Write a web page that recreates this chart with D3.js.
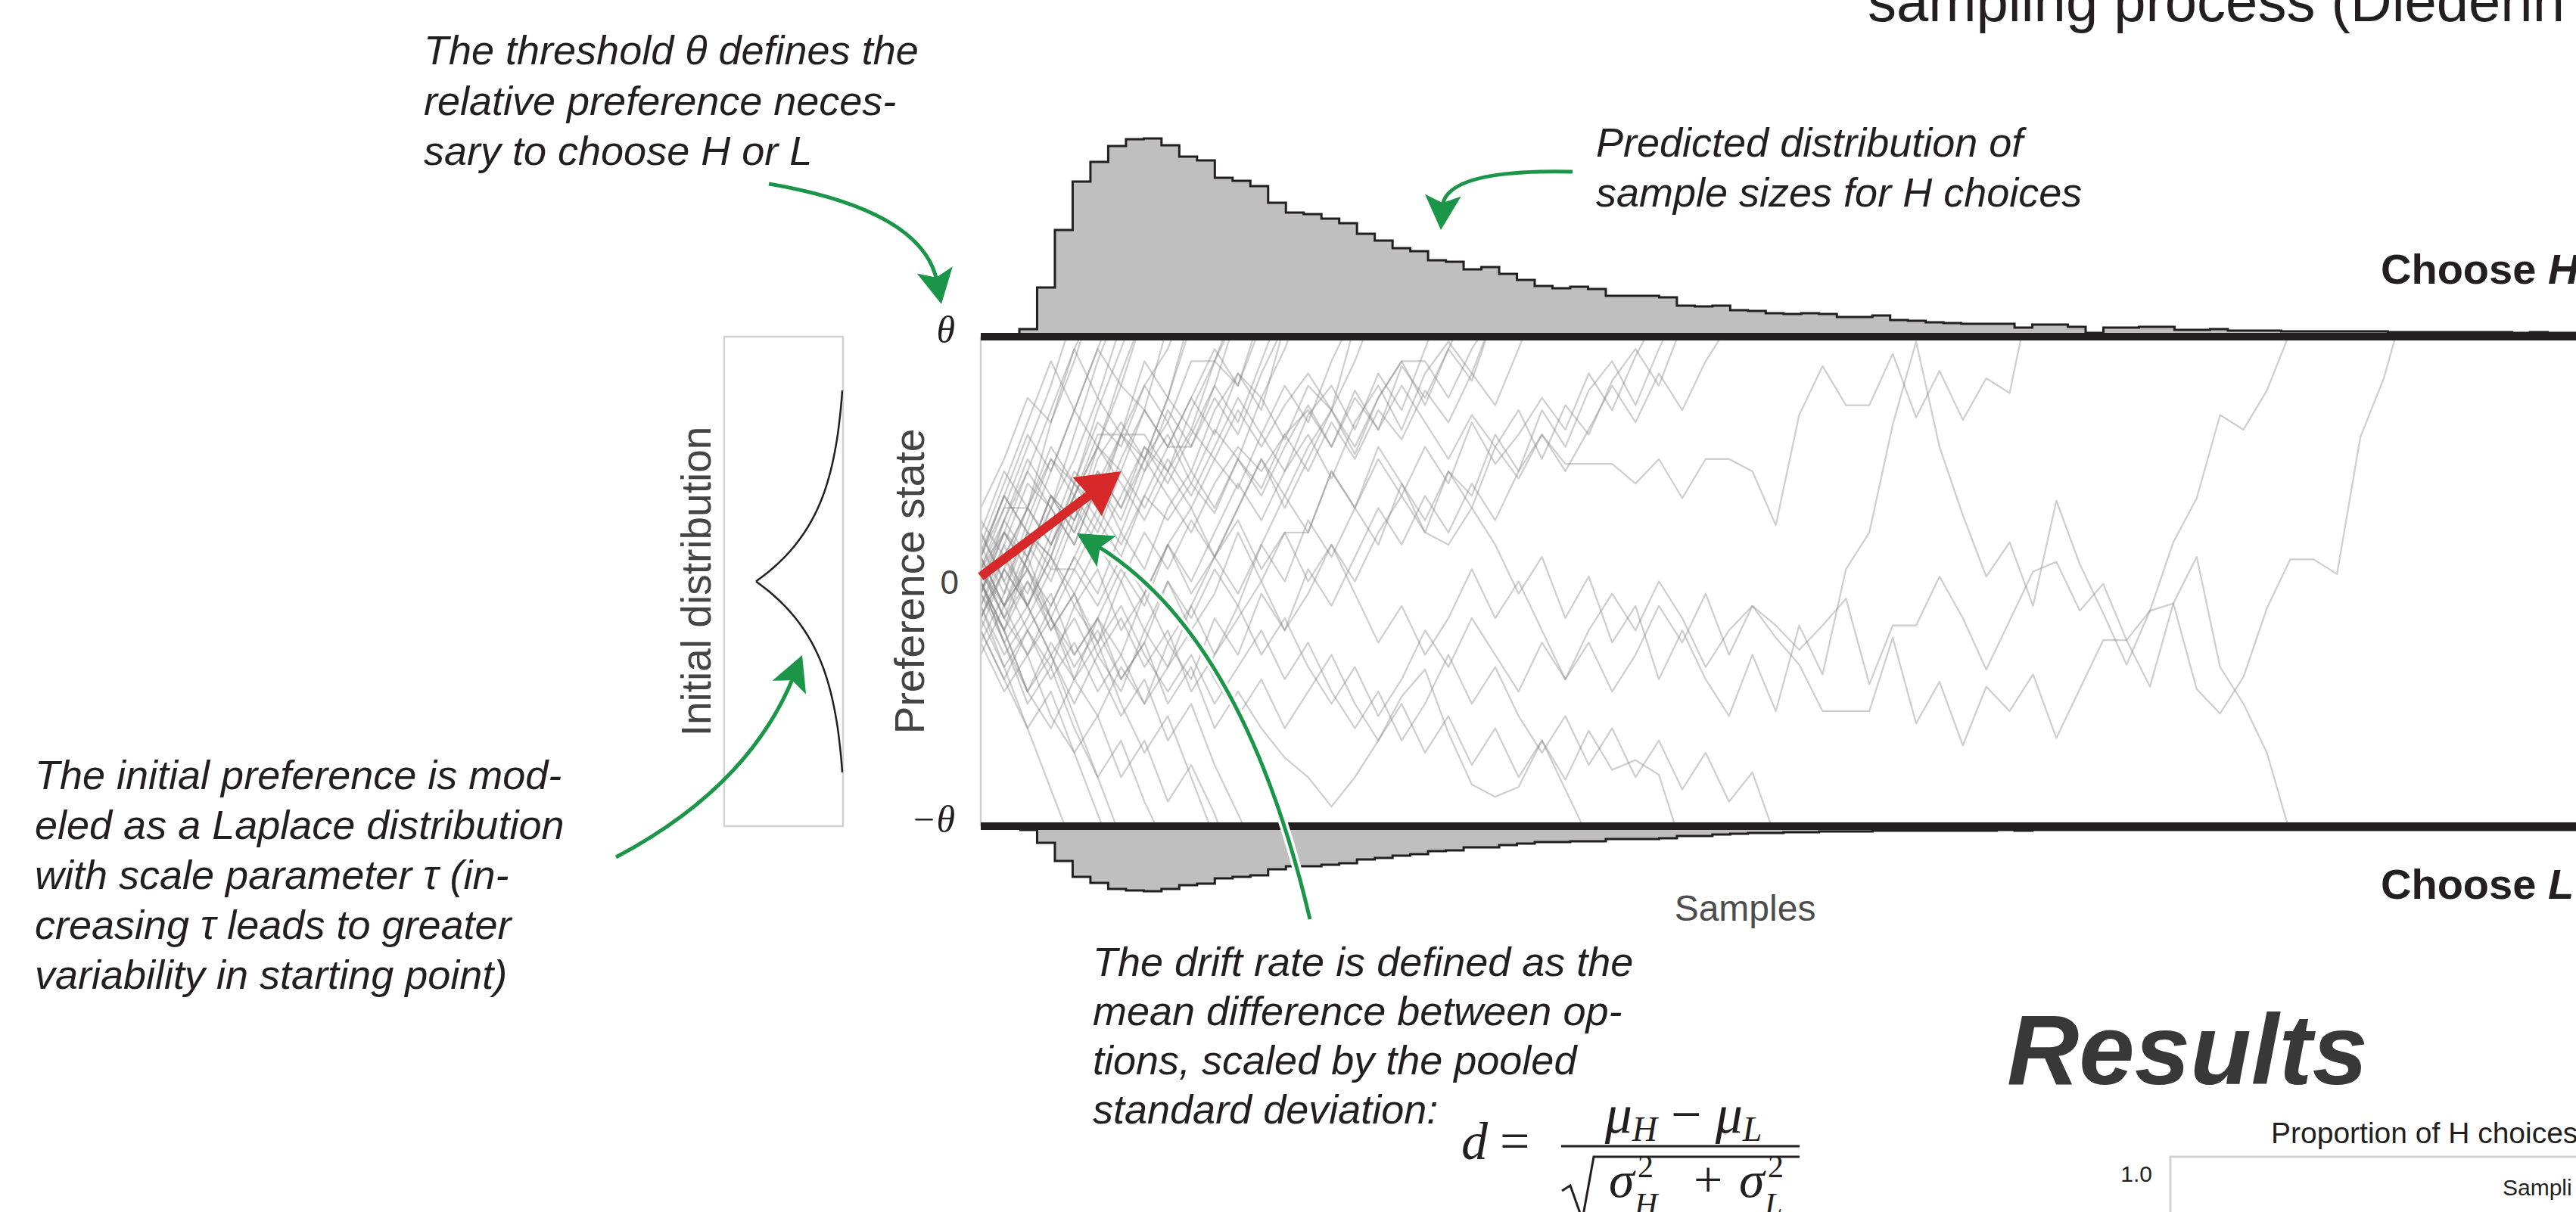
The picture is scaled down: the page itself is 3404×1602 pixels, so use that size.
<!DOCTYPE html>
<html>
<head>
<meta charset="utf-8">
<script src="https://cdn.jsdelivr.net/npm/d3@7"></script>
<style>
	html, body {margin: 0; padding: 0; background: #fff; overflow: hidden;}
	svg {display: block;}
	text {font-family: "Liberation Sans", Arial, Helvetica, sans-serif;}
	.note {font-style: italic; font-size: 54px; fill: #231f20;}
	.axis-label {font-size: 55px; fill: #444;}
	.math {font-family: "Liberation Serif", "DejaVu Serif", serif; fill: #231f20;}
</style>
</head>
<body>
<svg id="fig" width="3404" height="1602"></svg>
<script>
(function() {
	'use strict';

	// ---- data ----
	var THETA = 1;

	// sample-size histograms (counts, one per bin, bins in sample units)
	var histBinStart = 1.65, histBinWidth = 0.76;
	var topHistCounts = [
		5, 60, 136, 200, 226, 247, 256, 257, 248, 233,
		228, 205, 201, 194, 172, 159, 157, 151, 145, 131,
		122, 112, 108, 96, 94, 84, 87, 78, 70, 62,
		59, 61, 58, 49, 49, 49, 47, 36, 35, 36,
		30, 29, 26, 25, 26, 25, 21, 21, 23, 17,
		16, 14, 13, 12, 12, 12, 7, 11, 11, 8,
		0, 7, 7, 8, 8, 4, 4, 5, 3, 3,
		3, 2, 2, 2, 2, 2, 2, 1, 1, 1,
		1, 1, 1, 1, 0, 1, 0, 0];
	var bottomHistCounts = [
		0, 17, 41, 62, 70, 78, 80, 81, 78, 73,
		71, 64, 62, 60, 52, 48, 48, 46, 44, 39,
		37, 34, 32, 28, 27, 23, 23, 20, 18, 16,
		16, 15, 15, 12, 12, 12, 11, 8, 8, 6,
		5, 4, 4, 3, 3, 2, 2, 2, 1, 1,
		1, 1, 1, 1, 1, 0, 1, 0, 0, 0,
		0, 0, 0, 0, 0, 0, 0, 0, 0, 0,
		0, 0, 0, 0, 0, 0, 0, 0, 0, 0,
		0, 0, 0, 0, 0, 0, 0, 0];

	// initial (Laplace) distribution, relative density at preference values
	var initGrid = [-0.78, -0.75, -0.7, -0.65, -0.6, -0.55, -0.5, -0.45, -0.4, -0.35, -0.3, -0.25, -0.2, -0.15, -0.1, -0.05,
		0, 0.05, 0.1, 0.15, 0.2, 0.25, 0.3, 0.35, 0.4, 0.45, 0.5, 0.55, 0.6, 0.65, 0.7, 0.75, 0.78];
	var initDensity = [0.052, 0.058, 0.070, 0.085, 0.102, 0.124, 0.150, 0.181, 0.219, 0.264, 0.320, 0.387, 0.468, 0.566, 0.684, 0.827,
		1, 0.827, 0.684, 0.566, 0.468, 0.387, 0.320, 0.264, 0.219, 0.181, 0.150, 0.124, 0.102, 0.085, 0.070, 0.058, 0.052];

	// drift arrow: [sample, preference]
	var driftFrom = [0, 0.02];
	var driftTo = [6, 0.45];

	var yTickValues = [THETA, 0, -THETA];
	var yTickLabels = ['θ', '0', '−θ'];

	// simulated preference paths (value per sample, in units of θ)
	var paths = [
		[0.05, 0.3, 0.55, 0.8, 1.1],
		[-0.1, 0.15, 0.4, 0.3, 0.6, 0.9, 1.15],
		[0.2, 0.45, 0.3, 0.65, 0.9, 1.2],
		[0.0, -0.2, 0.1, 0.35, 0.25, 0.55, 0.8, 0.7, 1.05],
		[0.1, 0.35, 0.2, 0.45, 0.7, 0.55, 0.85, 1.1],
		[-0.25, -0.05, 0.2, 0.1, 0.4, 0.3, 0.6, 0.5, 0.75, 1.05],
		[0.15, -0.05, 0.25, 0.5, 0.4, 0.65, 0.55, 0.8, 0.95, 1.2],
		[-0.05, 0.25, 0.45, 0.3, 0.5, 0.75, 0.6, 0.9, 0.75, 1.1],
		[0.3, 0.5, 0.75, 0.65, 0.95, 1.15],
		[-0.15, 0.1, -0.05, 0.2, 0.45, 0.35, 0.6, 0.45, 0.7, 0.55, 0.8, 1.1],
		[0.0, 0.25, 0.1, 0.35, 0.2, 0.5, 0.65, 0.5, 0.75, 0.62, 0.9, 0.8, 1.1],
		[0.08, -0.15, 0.1, 0.3, 0.15, 0.4, 0.25, 0.5, 0.65, 0.45, 0.7, 0.85, 0.7, 1.05],
		[-0.3, -0.1, 0.15, 0.0, 0.25, 0.45, 0.3, 0.55, 0.4, 0.6, 0.8, 0.65, 0.9, 1.15],
		[0.12, 0.35, 0.2, 0.1, 0.35, 0.55, 0.45, 0.7, 0.55, 0.75, 0.6, 0.85, 0.75, 0.95, 1.2],
		[-0.05, 0.2, 0.05, 0.3, 0.15, 0.4, 0.2, 0.45, 0.6, 0.4, 0.62, 0.5, 0.75, 0.58, 0.8, 0.7, 1.05],
		[0.0, 0.1, -0.1, 0.15, 0.35, 0.2, 0.45, 0.3, 0.5, 0.35, 0.55, 0.75, 0.6, 0.8, 0.65, 0.9, 1.1],
		[0.2, 0.0, 0.2, 0.05, 0.3, 0.15, 0.35, 0.55, 0.45, 0.62, 0.5, 0.7, 0.55, 0.72, 0.85, 0.7, 0.9, 1.15],
		[-0.1, 0.1, 0.3, 0.15, 0.35, 0.55, 0.4, 0.25, 0.45, 0.3, 0.5, 0.38, 0.6, 0.45, 0.68, 0.8, 0.62, 0.85, 0.7, 0.95, 1.2],
		[0.05, -0.15, -0.3, -0.1, 0.1, -0.05, 0.2, 0.05, 0.3, 0.45, 0.3, 0.5, 0.35, 0.55, 0.72, 0.55, 0.78, 0.62, 0.88, 0.75, 0.95, 1.15],
		[-0.2, -0.4, -0.2, -0.35, -0.1, -0.25, 0.0, 0.2, 0.05, 0.25, 0.1, 0.3, 0.5, 0.35, 0.55, 0.7, 0.52, 0.75, 0.9, 0.72, 0.95, 0.82, 1.1],
		[0.0, 0.2, 0.05, -0.1, 0.1, 0.3, 0.15, 0.35, 0.25, 0.4, 0.28, 0.5, 0.38, 0.6, 0.45, 0.65, 0.5, 0.7, 0.58, 0.78, 0.65, 0.85, 0.72, 0.95, 1.2],
		[0.1, 0.3, 0.3, 0.5, 0.35, 0.6, 0.6, 0.8, 0.65, 0.9, 0.9, 1.1],
		[-0.1, -0.3, -0.15, 0.05, 0.05, 0.25, 0.1, 0.35, 0.55, 0.55, 0.75, 0.6, 0.85, 1.05],
		[0.25, 0.1, 0.3, 0.15, 0.4, 0.25, 0.5, 0.7, 0.55, 0.75, 0.95, 0.8, 1.05],
		[0.0, -0.2, -0.45, -0.25, -0.4, -0.15, -0.3, -0.05, 0.15, 0.0, 0.2, 0.4, 0.25, 0.45, 0.6, 0.42, 0.65, 0.8, 0.62, 0.85, 0.98, 0.85, 1.1],
		[0.05, 0.25, 0.5, 0.35, 0.2, 0.4, 0.6, 0.6, 0.45, 0.7, 0.9, 1.15],
		[-0.05, 0.2, 0.45, 0.7, 0.95, 0.75, 1.05],
		[0.15, 0.4, 0.65, 0.9, 0.7, 0.95, 1.2],
		[-0.2, 0.05, 0.3, 0.55, 0.4, 0.7, 0.95, 1.2],
		[0.1, 0.35, 0.6, 0.45, 0.7, 0.95, 0.8, 1.1],
		[-0.15, 0.05, -0.1, 0.1, -0.05, 0.15, 0.0, -0.2, 0.0, -0.15, 0.05, -0.1, 0.15, 0.35, 0.2, 0.45, 0.3, 0.5, 0.35, 0.55, 0.4, 0.65, 0.48, 0.6, 0.75, 0.62, 0.85, 0.7, 0.92, 1.1],
		[0.0, -0.25, -0.1, -0.3, -0.5, -0.3, -0.45, -0.2, -0.35, -0.1, 0.1, -0.05, 0.15, 0.0, 0.25, 0.1, 0.3, 0.15, 0.4, 0.25, 0.45, 0.3, 0.55, 0.7, 0.5, 0.72, 0.6, 0.82, 0.95, 0.8, 1.05],
		[0.2, 0.0, -0.2, -0.05, -0.3, -0.15, 0.05, -0.1, 0.15, 0.3, 0.1, 0.3, 0.5, 0.3, 0.5, 0.7, 0.55, 0.75, 0.9, 0.9, 0.75, 0.95, 1.1],
		[-0.05, -0.25, -0.45, -0.6, -0.4, -0.55, -0.35, -0.5, -0.25, -0.4, -0.15, -0.3, -0.05, -0.2, 0.05, -0.1, 0.1, 0.3, 0.15, 0.35, 0.2, 0.4, 0.25, 0.45, 0.6, 0.45, 0.62, 0.8, 0.65, 0.85, 0.7, 0.9, 1.05],
		[0.1, -0.1, 0.05, -0.15, -0.35, -0.2, -0.4, -0.25, 0.0, -0.2, -0.05, 0.2, 0.0, 0.2, 0.2, 0.45, 0.3, 0.55, 0.4, 0.2, 0.45, 0.35, 0.6, 0.45, 0.7, 0.55, 0.78, 0.9, 0.72, 0.95, 1.15],
		[-0.1, -0.35, -0.6, -0.85, -1.1],
		[0.0, -0.2, -0.45, -0.3, -0.55, -0.8, -1.05],
		[-0.25, -0.45, -0.3, -0.55, -0.7, -0.95, -1.2],
		[0.1, -0.1, -0.3, -0.15, -0.4, -0.25, -0.5, -0.7, -0.55, -0.8, -1.05],
		[-0.05, 0.15, -0.1, -0.3, -0.15, -0.35, -0.55, -0.4, -0.65, -0.5, -0.75, -0.95, -1.15],
		[0.05, -0.1, 0.1, -0.15, -0.3, -0.15, -0.4, -0.25, -0.5, -0.35, -0.6, -0.45, -0.6, -0.72, -0.8, -0.92, -0.8, -0.65, -0.47, -0.36, -0.62, -0.83, -0.88, -0.84, -0.65, -0.81, -0.61, -0.77, -0.73, -0.79, -1.09],
		[-0.15, -0.35, -0.2, -0.4, -0.25, -0.45, -0.3, -0.5, -0.35, -0.2, -0.4, -0.55, -0.4, -0.6, -0.45, -0.3, -0.5, -0.65, -0.5, -0.7, -0.55, -0.75, -0.6, -0.8, -0.65, -0.85, -1.05],
		[0.05, -0.15, 0.0, -0.2, -0.05, -0.25, -0.1, -0.3, -0.45, -0.3, -0.5, -0.35, -0.2, -0.4, -0.25, -0.45, -0.6, -0.45, -0.65, -0.5, -0.3, -0.5, -0.35, -0.55, -0.7, -0.55, -0.75, -0.6, -0.8, -0.65, -0.85, -0.7, -0.9, -0.78, -1.05],
		[0.0, -0.25, -0.5, -0.35, -0.6, -0.8, -0.65, -0.9, -1.1],
		[-0.2, -0.4, -0.6, -0.45, -0.7, -0.55, -0.8, -0.65, -0.9, -0.75, -0.95, -1.2],
		[0.05, 0.2, 0.1, 0.35, 0.25, 0.45, 0.3, 0.5, 0.35, 0.2, 0.4, 0.55, 0.45, 0.6, 0.7, 0.55, 0.75, 0.62, 0.8, 0.65, 0.5, 0.68, 0.55, 0.42, 0.6, 0.48, 0.48, 0.48, 0.4, 0.5, 0.34, 0.5, 0.5, 0.45,
			0.23, 0.68, 0.88, 0.72, 0.72, 0.93, 0.67, 0.86, 0.66, 0.83, 0.77, 1.23],
		[-0.05, -0.2, 0.0, -0.15, 0.05, -0.1, 0.1, -0.05, -0.25, -0.1, -0.3, -0.15, 0.0, -0.2, -0.05, 0.15, 0.0, 0.2, 0.35, 0.2, 0.15, 0.3, 0.15, -0.05, 0.1, -0.15, 0.02, -0.25, -0.1, -0.4, -0.2, -0.4, -0.55, -0.3,
			-0.53, -0.18, -0.38, 0.05, 0.2, 0.64, 0.98, 0.55, 0.27, 0.02, 0.16, -0.1, 0.33, 0.07, -0.13, -0.34, -0.12, 0.16, 0.34, 0.68, 0.62, 0.78, 1.02],
		[0.1, -0.1, 0.05, -0.2, -0.05, -0.3, -0.15, -0.35, -0.2, -0.45, -0.3, -0.1, -0.3, -0.15, -0.35, -0.5, -0.35, -0.55, -0.4, -0.2, -0.35, -0.15, -0.3, -0.45, -0.25, -0.4, -0.2, -0.05, -0.2, 0.0, -0.15, -0.35, -0.2, -0.1,
			-0.23, -0.34, -0.53, -0.53, -0.53, -0.23, -0.58, -0.41, -0.67, -0.43, -0.53, -0.38, -0.64, -0.44, -0.24, -0.24, -0.12, -0.09, -0.44, -0.54, -0.39, -0.11, 0.09, 0.09, 0.03, 0.59, 0.83, 1.17],
		[-0.15, 0.05, -0.1, 0.1, -0.1, 0.05, -0.2, -0.05, 0.15, -0.05, 0.1, 0.25, 0.05, 0.2, 0.0, 0.15, -0.05, -0.25, -0.1, -0.3, -0.15, 0.05, -0.15, 0.0, -0.2, -0.4, -0.25, -0.45, -0.3, -0.1, -0.25, -0.05, -0.3, -0.1,
			-0.18, -0.28, -0.18, -0.07, -0.42, -0.18, -0.18, 0.02, -0.15, -0.36, -0.16, 0.04, 0.08, -0.12, -0.01, -0.24, -0.43, -0.09, 0.1, -0.35, -0.5, -0.7, -1.03]
	];

	var noteThreshold = ['The threshold θ defines the', 'relative preference neces-', 'sary to choose H or L'];
	var notePredicted = ['Predicted distribution of', 'sample sizes for H choices'];
	var noteInitial = ['The initial preference is mod-', 'eled as a Laplace distribution',
		'with scale parameter τ (in-', 'creasing τ leads to greater', 'variability in starting point)'];
	var noteDrift = ['The drift rate is defined as the', 'mean difference between op-',
		'tions, scaled by the pooled', 'standard deviation:'];

	// ---- layout ----
	var W = 3404, H = 1602;
	var barWidth = 10;
	var green = '#1b9648', red = '#d7292a', ink = '#231f20';

	var svg = d3.select('#fig');

	var x = d3.scaleLinear().domain([0, 60]).range([1296, 1296 + 60 * 30.9]);
	var y = d3.scaleLinear().domain([-THETA, THETA]).range([1092, 445]);
	var hScale = d3.scaleLinear().domain([0, 257]).range([0, 257]);

	var defs = svg.append('defs');
	defs.append('clipPath').attr('id', 'plot-clip')
		.append('rect')
		.attr('x', x(0)).attr('y', y(THETA))
		.attr('width', W - x(0)).attr('height', y(-THETA) - y(THETA));

	// paths
	var line = d3.line()
		.x(function(d, i) {return x(i);})
		.y(function(d) {return y(d);});
	svg.append('g').attr('clip-path', 'url(#plot-clip)')
		.selectAll('path').data(paths).join('path')
		.attr('d', line)
		.attr('fill', 'none')
		.attr('stroke', '#808080')
		.attr('stroke-opacity', 0.38)
		.attr('stroke-width', 2.3)
		.attr('stroke-linejoin', 'round');

	// plot frame (left side)
	svg.append('line')
		.attr('x1', x(0)).attr('x2', x(0))
		.attr('y1', y(THETA)).attr('y2', y(-THETA))
		.attr('stroke', '#d2d2d2').attr('stroke-width', 2.5);

	// histograms
	function histPoints(counts) {
		var pts = counts.map(function(c, i) {return [histBinStart + i * histBinWidth, c];});
		pts.push([histBinStart + counts.length * histBinWidth, counts[counts.length - 1]]);
		return [[histBinStart, 0]].concat(pts);
	}
	function drawHist(counts, base, sign) {
		var pts = histPoints(counts);
		var area = d3.area().curve(d3.curveStepAfter)
			.x(function(d) {return x(d[0]);})
			.y0(base)
			.y1(function(d) {return base + sign * hScale(d[1]);});
		var outline = d3.line().curve(d3.curveStepAfter)
			.x(function(d) {return x(d[0]);})
			.y(function(d) {return base + sign * hScale(d[1]);});
		svg.append('path').attr('d', area(pts)).attr('fill', '#bfbfbf');
		svg.append('path').attr('d', outline(pts))
			.attr('fill', 'none').attr('stroke', ink).attr('stroke-width', 3);
	}
	drawHist(topHistCounts, y(THETA) - barWidth / 2, -1);
	drawHist(bottomHistCounts, y(-THETA) + barWidth / 2, 1);

	// threshold bars
	svg.selectAll('line.bound').data([THETA, -THETA]).join('line')
		.attr('class', 'bound')
		.attr('x1', x(0)).attr('x2', W)
		.attr('y1', function(d) {return y(d);})
		.attr('y2', function(d) {return y(d);})
		.attr('stroke', ink).attr('stroke-width', barWidth);

	// y tick labels
	svg.selectAll('text.ytick').data(yTickValues).join('text')
		.attr('x', function(d) {return d === 0 ? x(0) - 29 : x(0) - 34;})
		.attr('y', function(d) {return d === 0 ? y(d) + 16 : y(d) + 8;})
		.attr('text-anchor', 'end')
		.attr('fill', '#444')
		.attr('class', function(d) {return d === 0 ? 'ytick' : 'ytick math';})
		.style('font-size', function(d) {return d === 0 ? '44px' : '50px';})
		.style('font-style', function(d) {return d === 0 ? 'normal' : 'italic';})
		.text(function(d, i) {return yTickLabels[i];});

	// axis labels
	svg.append('text').attr('class', 'axis-label')
		.attr('transform', 'translate(1221,' + y(0) + ') rotate(-90)')
		.attr('text-anchor', 'middle')
		.text('Preference state');
	svg.append('text')
		.attr('x', 2306).attr('y', 1217)
		.attr('text-anchor', 'middle')
		.style('font-size', '48px').attr('fill', '#4d4d4d')
		.text('Samples');

	// initial distribution panel
	var boxLeft = 957, boxRight = 1114;
	svg.append('rect')
		.attr('x', boxLeft).attr('y', y(THETA))
		.attr('width', boxRight - boxLeft).attr('height', y(-THETA) - y(THETA))
		.attr('fill', 'none').attr('stroke', '#d2d2d2').attr('stroke-width', 2.5);
	var dens = d3.scaleLinear().domain([d3.min(initDensity), 1]).range([boxRight - 1, 999]);
	var initPts = initGrid.map(function(g, i) {return [g, initDensity[i]];});
	var densLine = d3.line().curve(d3.curveMonotoneY)
		.x(function(d) {return dens(d[1]);})
		.y(function(d) {return y(d[0]);});
	var upper = initPts.filter(function(d) {return d[0] >= 0;}).reverse();
	var lower = initPts.filter(function(d) {return d[0] <= 0;}).reverse();
	[upper, lower].forEach(function(part) {
		svg.append('path').attr('d', densLine(part))
			.attr('fill', 'none').attr('stroke', ink).attr('stroke-width', 2.5);
	});
	svg.append('text').attr('class', 'axis-label')
		.attr('transform', 'translate(939,' + y(0) + ') rotate(-90)')
		.attr('text-anchor', 'middle')
		.text('Initial distribution');

	// arrows
	function headPath(tip, dir, len, wid, notch) {
		var bx = tip[0] - dir[0] * len, by = tip[1] - dir[1] * len;
		var px = -dir[1], py = dir[0];
		var nx = tip[0] - dir[0] * len * (1 - notch), ny = tip[1] - dir[1] * len * (1 - notch);
		var p = d3.path();
		p.moveTo(tip[0], tip[1]);
		p.lineTo(bx + px * wid / 2, by + py * wid / 2);
		p.lineTo(nx, ny);
		p.lineTo(bx - px * wid / 2, by - py * wid / 2);
		p.closePath();
		return p.toString();
	}
	function curvedArrow(p0, c, tip, opts) {
		var dx = tip[0] - c[0], dy = tip[1] - c[1], L = Math.hypot(dx, dy);
		var dir = [dx / L, dy / L];
		var end = [tip[0] - dir[0] * opts.len * 0.65, tip[1] - dir[1] * opts.len * 0.65];
		var p = d3.path();
		p.moveTo(p0[0], p0[1]);
		p.quadraticCurveTo(c[0], c[1], end[0], end[1]);
		if (opts.halo) {
			svg.append('path').attr('d', p.toString())
				.attr('fill', 'none').attr('stroke', '#fff').attr('stroke-width', opts.width + 7);}
		svg.append('path').attr('d', p.toString())
			.attr('fill', 'none').attr('stroke', opts.color).attr('stroke-width', opts.width);
		svg.append('path').attr('d', headPath(tip, dir, opts.len, opts.wid, opts.notch))
			.attr('fill', opts.color);
	}

	// drift arrow (red)
	(function() {
		var p0 = [x(driftFrom[0]), y(driftFrom[1])], tip = [x(driftTo[0]), y(driftTo[1])];
		var dx = tip[0] - p0[0], dy = tip[1] - p0[1], L = Math.hypot(dx, dy);
		var dir = [dx / L, dy / L], len = 56;
		svg.append('line')
			.attr('x1', p0[0]).attr('y1', p0[1])
			.attr('x2', tip[0] - dir[0] * len * 0.9).attr('y2', tip[1] - dir[1] * len * 0.9)
			.attr('stroke', red).attr('stroke-width', 12);
		svg.append('path').attr('d', headPath(tip, dir, len, 64, 0.05)).attr('fill', red);
	})();

	var gArrow = {color: green, width: 5, len: 46, wid: 48, notch: 0.22};
	curvedArrow([1016, 243], [1220, 278], [1244, 402], gArrow);
	curvedArrow([2078, 227], [1909, 223], [1904, 304], gArrow);
	curvedArrow([814, 1133], [990, 1040], [1060, 866], gArrow);
	curvedArrow([1731, 1215], [1643, 840], [1423, 705], Object.assign({}, gArrow, {halo: true}));

	// annotation notes
	function note(lines, x0, y0, lh) {
		var t = svg.append('text').attr('class', 'note');
		lines.forEach(function(s, i) {
			t.append('tspan').attr('x', x0).attr('y', y0 + i * lh).text(s);});
	}
	note(noteThreshold, 560, 85, 66.5);
	note(notePredicted, 2109, 207, 66);
	note(noteInitial, 46, 1043, 66);
	note(noteDrift, 1444, 1290, 65);

	// formula
	var fx0 = 2063, fx1 = 2378;
	svg.append('text').attr('class', 'math').attr('x', 1931).attr('y', 1532)
		.style('font-size', '70px').style('font-style', 'italic').text('d');
	svg.append('text').attr('class', 'math').attr('x', 1982).attr('y', 1532)
		.style('font-size', '70px').text('=');
	var num = svg.append('text').attr('class', 'math')
		.attr('x', (fx0 + fx1) / 2 + 4).attr('y', 1497).attr('text-anchor', 'middle')
		.style('font-size', '72px');
	num.append('tspan').style('font-style', 'italic').text('μ');
	num.append('tspan').style('font-style', 'italic').style('font-size', '46px').attr('dy', 11).text('H');
	num.append('tspan').attr('dy', -11).text(' − ');
	num.append('tspan').style('font-style', 'italic').text('μ');
	num.append('tspan').style('font-style', 'italic').style('font-size', '46px').attr('dy', 11).text('L');
	svg.append('line').attr('x1', fx0).attr('x2', fx1).attr('y1', 1515).attr('y2', 1515)
		.attr('stroke', ink).attr('stroke-width', 3);
	svg.append('path')
		.attr('d', 'M2064,1574L2075,1567L2091,1612L2106,1529L' + fx1 + ',1529')
		.attr('fill', 'none').attr('stroke', ink).attr('stroke-width', 3);
	[[2126, 'H'], [2298, 'L']].forEach(function(d) {
		svg.append('text').attr('class', 'math').attr('x', d[0]).attr('y', 1582)
			.style('font-size', '68px').style('font-style', 'italic').text('σ');
		svg.append('text').attr('class', 'math').attr('x', d[0] + 38).attr('y', 1556)
			.style('font-size', '42px').text('2');
		svg.append('text').attr('class', 'math').attr('x', d[0] + 34).attr('y', 1606)
			.style('font-size', '42px').style('font-style', 'italic').text(d[1]);
	});
	svg.append('text').attr('class', 'math').attr('x', 2238).attr('y', 1582)
		.style('font-size', '68px').text('+');

	// right side labels
	[['Choose ', 'H', 375], ['Choose ', 'L', 1188]].forEach(function(d) {
		var t = svg.append('text').attr('x', 3146).attr('y', d[2])
			.style('font-size', '56px').style('font-weight', 'bold').attr('fill', ink);
		t.append('tspan').text(d[0]);
		t.append('tspan').style('font-style', 'italic').text(d[1]);
	});

	// title fragment at top
	svg.append('text').attr('x', 2468).attr('y', 28)
		.style('font-size', '76px').attr('fill', ink)
		.text('sampling process (Diedenh');

	// results section
	svg.append('text').attr('x', 2652).attr('y', 1433)
		.style('font-size', '132px').style('font-weight', 'bold').style('font-style', 'italic')
		.attr('fill', '#383838').text('Results');
	svg.append('text').attr('x', 3001).attr('y', 1511)
		.style('font-size', '39px').attr('fill', ink).text('Proportion of H choices');
	svg.append('rect').attr('x', 2868).attr('y', 1529).attr('width', 700).attr('height', 200)
		.attr('fill', 'none').attr('stroke', '#d2d2d2').attr('stroke-width', 3);
	svg.append('text').attr('x', 2844).attr('y', 1562).attr('text-anchor', 'end')
		.style('font-size', '30px').attr('fill', ink).text('1.0');
	svg.append('text').attr('x', 3307).attr('y', 1580)
		.style('font-size', '30px').attr('fill', ink).text('Sampli');
})();
</script>
</body>
</html>
